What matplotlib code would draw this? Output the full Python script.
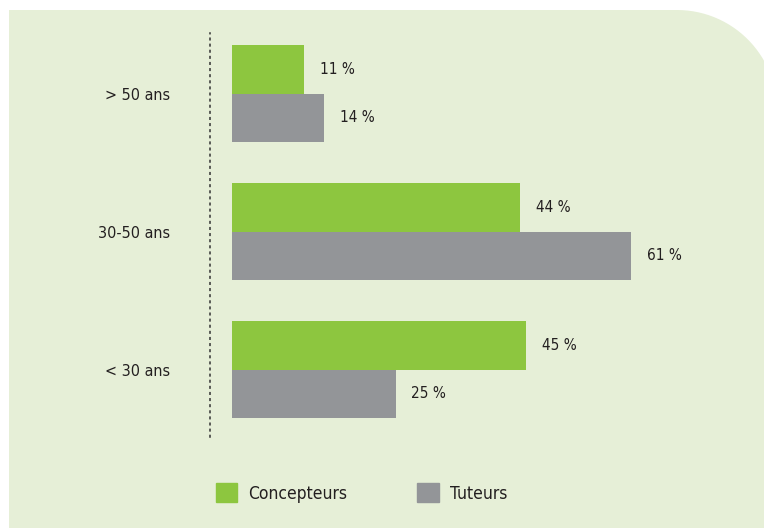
import numpy as np
import matplotlib.pyplot as plt
from matplotlib.patches import Patch, PathPatch
from matplotlib.path import Path

# share of each age group, per population
categories = ['< 30 ans', '30-50 ans', '> 50 ans']
concepteurs = [45, 44, 11]
tuteurs = [25, 61, 14]
series_names = ['Concepteurs', 'Tuteurs']

green = '#8dc63f'
grey = '#939598'
bg = '#e6efd7'
txt = '#231f20'

plt.rcParams['font.family'] = ['DejaVu Sans']
plt.rcParams['font.stretch'] = 'condensed'

W, H = 764, 528
fig = plt.figure(figsize=(W / 100, H / 100), dpi=100)
fig.patch.set_facecolor('white')

# background panel with a rounded top-right corner (pixel coords, y from top)
def px(x, y):
    return (x / W, 1 - y / H)

r = 100
cx, cy = 677, 10 + r
verts = [px(9, H), px(9, 10), px(cx, 10)]
codes = [Path.MOVETO, Path.LINETO, Path.LINETO]
for a in np.linspace(90, 0, 30)[1:]:
    verts.append(px(cx + r * np.cos(np.radians(a)), cy - r * np.sin(np.radians(a))))
    codes.append(Path.LINETO)
verts += [px(cx + r, H), px(9, H)]
codes += [Path.LINETO, Path.CLOSEPOLY]
fig.patches.append(PathPatch(Path(verts, codes), transform=fig.transFigure,
                             facecolor=bg, edgecolor='none', zorder=-5))

# axes: left spine is the dotted line at x=210px, zero at 232px
ppu = (631 - 232) / 61.0
left, top, bottom = 210, 33, 437
ax = fig.add_axes([left / W, 1 - bottom / H, (W - left) / W, (bottom - top) / H])
ax.set_facecolor('none')
ax.set_zorder(2)
x0 = -(232 - left) / ppu
ax.set_xlim(x0, x0 + (W - left) / ppu)
ax.set_ylim(-(bottom - 369.5) / 138, 2 + (93.5 - top) / 138)

y = np.arange(len(categories))
h = 48.5 / 138
ax.barh(y + h / 2, concepteurs, height=h, color=green, label=series_names[0])
ax.barh(y - h / 2, tuteurs, height=h, color=grey, label=series_names[1])

for yy, v in zip(y, concepteurs):
    ax.annotate(f'{v} %', (v, yy + h / 2), xytext=(11.5, 0), textcoords='offset points',
                ha='left', va='center', fontsize=11, color=txt)
for yy, v in zip(y, tuteurs):
    ax.annotate(f'{v} %', (v, yy - h / 2), xytext=(11.5, 0), textcoords='offset points',
                ha='left', va='center', fontsize=11, color=txt)

ax.set_yticks(y)
ax.set_yticklabels(categories, fontsize=11.5, color=txt)
ax.tick_params(axis='y', length=0, pad=29)
ax.set_xticks([])
for s in ['top', 'right', 'bottom']:
    ax.spines[s].set_visible(False)
ax.spines['left'].set_linestyle((0, (1, 3)))
ax.spines['left'].set_color('#333333')
ax.spines['left'].set_linewidth(1.1)

handles = [Patch(color=green), Patch(color=grey)]
fig.legend(handles, series_names, loc='center left', bbox_to_anchor=(200 / W, 1 - 493 / H),
           ncol=2, frameon=False, fontsize=12.5, handlelength=1.25, handleheight=1.25,
           handletextpad=0.65, columnspacing=4.0, labelcolor=txt)

fig.savefig('out.png', dpi=100)
